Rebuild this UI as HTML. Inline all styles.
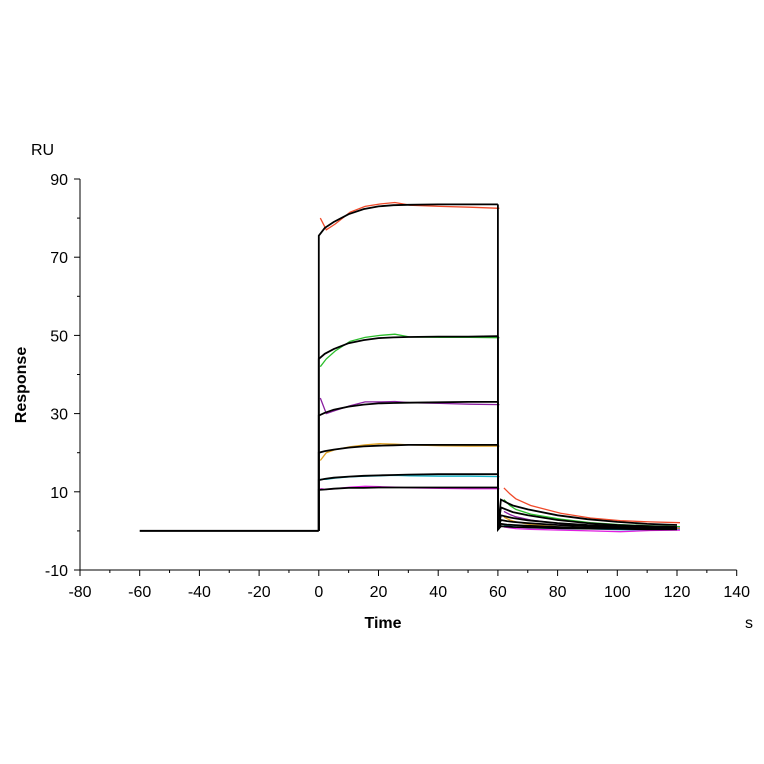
<!DOCTYPE html>
<html><head><meta charset="utf-8"><style>
html,body{margin:0;padding:0;background:#fff;}
svg{display:block;font-family:"Liberation Sans",Arial,sans-serif;}
</style></head><body>
<svg id="chart" width="764" height="764">
<g id="axes"></g>
<g id="series"></g>
<text x="31" y="155" font-size="16" fill="#000">RU</text>
<text transform="translate(26,385) rotate(-90)" text-anchor="middle" font-size="16" font-weight="bold">Response</text>
<text x="383" y="628" text-anchor="middle" font-size="16" font-weight="bold">Time</text>
<text x="745" y="628" font-size="16">s</text>
</svg>
<script>
const xTicks=[-80,-60,-40,-20,0,20,40,60,80,100,120,140];
const yTicks=[-10,10,30,50,70,90];
const assocT=[0,2,5,10,15,20,25,30,40,50,60];
const dissT=[61,63,65,70,80,90,100,110,120];
const fitAssoc=[
[75.5,77.5,79,81,82.3,83,83.3,83.4,83.5,83.5,83.5],
[44,45.3,46.5,48,48.8,49.3,49.5,49.6,49.7,49.7,49.8],
[29.5,30.2,31,31.8,32.3,32.6,32.7,32.8,32.9,33,33],
[20,20.4,20.8,21.3,21.6,21.8,21.9,22,22,22,22],
[13,13.3,13.6,13.9,14.1,14.2,14.3,14.4,14.5,14.5,14.5],
[10.5,10.6,10.8,11,11,11.1,11.1,11.1,11.1,11.1,11.1]];
const fitDiss=[
[8,7.2,6.5,5.5,4,3,2.3,1.8,1.5],
[6,5.4,4.8,4,2.8,2,1.5,1.2,1],
[4,3.6,3.3,2.7,2,1.5,1.2,1,0.8],
[2.8,2.5,2.3,2,1.5,1.2,1,0.8,0.6],
[1.8,1.6,1.5,1.3,1,0.8,0.7,0.6,0.5],
[1.2,1.1,1,0.9,0.7,0.6,0.5,0.4,0.4]];
const dataAssoc=[
[80,77,78.5,81.5,83,83.6,84,83.3,83,82.8,82.5],
[42,44,46,48.5,49.5,50,50.3,49.6,49.5,49.5,49.4],
[34,30,30.8,32,33,33,33.1,32.8,32.6,32.4,32.3],
[18,20,20.8,21.5,22,22.3,22.2,22,21.8,21.7,21.7],
[13.2,13.2,13.5,13.8,14,14.1,14.2,14.1,14,14,13.9],
[10.8,10.6,10.8,11.2,11.4,11.3,11.2,11,10.9,10.8,10.8]];
const dataDiss=[
[11,9.5,8.2,6.5,4.5,3.3,2.6,2.3,2.1],
[8,6.5,5.5,4.3,3,2.1,1.6,1.3,1.1],
[5,4.2,3.6,2.8,1.8,1.2,0.9,0.8,0.7],
[3.5,2.8,2.3,1.6,1,0.8,0.6,0.5,0.5],
[1.5,1.2,1,0.8,0.6,0.5,0.3,0.3,0.3],
[1,0.8,0.6,0.4,0.2,0,-0.2,0.1,0.2]];
const colors=["#f04a2a","#2bbd2b","#8a1fa0","#e0a020","#19b5c8","#e020e0"];
const NS="http://www.w3.org/2000/svg";
const X=v=>80+(v+80)*2.985;
const Y=v=>570-(v+10)*3.91;
const axes=document.getElementById('axes'), ser=document.getElementById('series');
function mk(tag,attrs,parent){const e=document.createElementNS(NS,tag);for(const k in attrs)e.setAttribute(k,attrs[k]);parent.appendChild(e);return e;}
let e=mk('line',{x1:X(-80),y1:Y(-10),x2:X(140),y2:Y(-10),stroke:'#000','stroke-width':1},axes);


e=mk('line',{x1:X(-80),y1:Y(-10),x2:X(-80),y2:Y(90),stroke:'#000','stroke-width':1},axes);


xTicks.forEach((t,i)=>{
 mk('line',{x1:X(t),y1:Y(-10),x2:X(t),y2:Y(-10)+6,stroke:'#000'},axes);
 if(i<xTicks.length-1)mk('line',{x1:X(t+10),y1:Y(-10),x2:X(t+10),y2:Y(-10)+3,stroke:'#000'},axes);
 const tx=mk('text',{x:X(t),y:597,'text-anchor':'middle','font-size':16},axes);tx.textContent=t;
 
 
});
yTicks.forEach((t,i)=>{
 mk('line',{x1:X(-80)-6,y1:Y(t),x2:X(-80),y2:Y(t),stroke:'#000'},axes);
 if(i<yTicks.length-1)mk('line',{x1:X(-80)-3,y1:Y(t+10),x2:X(-80),y2:Y(t+10),stroke:'#000'},axes);
 const tx=mk('text',{x:X(-80)-12,y:Y(t)+6,'text-anchor':'end','font-size':16},axes);tx.textContent=t;
 
 
});
function pts(ts,vs){return ts.map((t,i)=>X(t).toFixed(1)+','+Y(vs[i]).toFixed(1)).join(' ');}
e=mk('polyline',{points:pts([-60,-30,0],[0,0,0]),fill:'none',stroke:'#000','stroke-width':2},ser);


colors.forEach((c,i)=>{
 let p=mk('polyline',{points:pts(assocT.map(t=>t+0.5),dataAssoc[i]),fill:'none',stroke:c,'stroke-width':1.3},ser);
 
 
 p=mk('polyline',{points:pts(dissT.map(t=>t+1),dataDiss[i]),fill:'none',stroke:c,'stroke-width':1.3},ser);
 
 
});
fitAssoc.forEach((a,i)=>{
 let p=mk('polyline',{points:pts([0].concat(assocT),[0].concat(a)),fill:'none',stroke:'#000','stroke-width':1.8},ser);
 
 
 p=mk('polyline',{points:pts([60,60].concat(dissT),[a[a.length-1],0.3].concat(fitDiss[i])),fill:'none',stroke:'#000','stroke-width':1.8},ser);
 
 
});
</script>
</body></html>
